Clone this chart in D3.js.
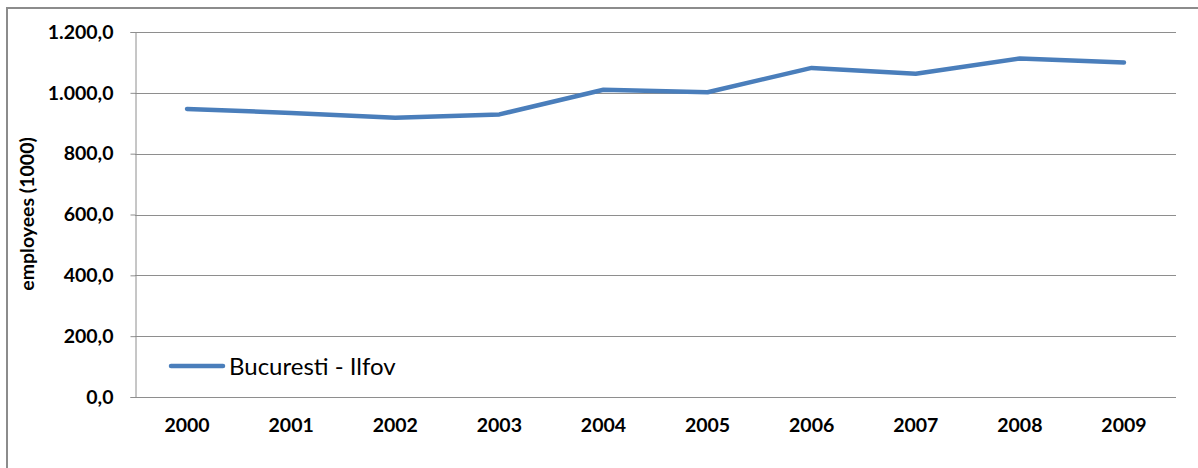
<!DOCTYPE html>
<html>
<head>
<meta charset="utf-8">
<script src="https://cdn.jsdelivr.net/npm/d3@7"></script>
<style>
  html, body { margin: 0; padding: 0; background: #fff; }
  svg { display: block; }
  text { font-family: Lato, "Open Sans", sans-serif; fill: #000; }
</style>
</head>
<body>
<svg id="chart" width="1198" height="468"></svg>
<script>
// Employees in Bucuresti - Ilfov region, thousands
const years = ["2000", "2001", "2002", "2003", "2004", "2005", "2006", "2007", "2008", "2009"];
const employees = [947, 934, 918, 929, 1010, 1002, 1082, 1063, 1113, 1100];
const yTicks = [0, 200, 400, 600, 800, 1000, 1200];
const seriesName = "Bucuresti - Ilfov";
const yTitle = "employees (1000)";

const W = 1198, H = 468;
const margin = { left: 135, right: 22, top: 32, bottom: 71 };
const svg = d3.select("#chart");

// outer chart frame (runs past the right and bottom edges)
svg.append("rect")
  .attr("x", 7).attr("y", 8)
  .attr("width", W + 20).attr("height", H + 20)
  .attr("fill", "#fff").attr("stroke", "#8c8c8c").attr("stroke-width", 2);

const x = d3.scaleBand().domain(years)
  .range([margin.left, W - margin.right]).paddingInner(0).paddingOuter(0);
const y = d3.scaleLinear().domain([0, 1200])
  .range([H - margin.bottom, margin.top]);

const fmt = v => d3.format(",.1f")(v).replace(/,/g, "#").replace(".", ",").replace(/#/g, ".");

// horizontal gridlines
svg.append("g")
  .selectAll("line").data(yTicks.filter(d => d > 0)).join("line")
  .attr("x1", margin.left).attr("x2", W - margin.right)
  .attr("y1", d => Math.round(y(d)) + 0.5).attr("y2", d => Math.round(y(d)) + 0.5)
  .attr("stroke", "#8e8e8e").attr("stroke-width", 1);

// y axis
const yAxis = svg.append("g")
  .attr("transform", `translate(${margin.left + 0.5},0)`)
  .call(d3.axisLeft(y).tickValues(yTicks).tickSize(5).tickPadding(17).tickFormat(fmt));
yAxis.selectAll("path, line").attr("stroke", "#8e8e8e");
yAxis.selectAll("text")
  .attr("font-family", "Lato, sans-serif").attr("font-size", 19.5).attr("font-weight", "bold")
  .attr("fill", "#111");

// x axis
const xAxis = svg.append("g")
  .attr("transform", `translate(0,${Math.round(y(0)) + 0.5})`)
  .call(d3.axisBottom(x).tickSize(0).tickPadding(21));
xAxis.select("path").attr("stroke", "#8e8e8e").attr("d", `M${margin.left},0H${W - margin.right}`);
xAxis.selectAll("text")
  .attr("font-family", "Lato, sans-serif").attr("font-size", 19.5).attr("font-weight", "bold")
  .attr("fill", "#111");

// axis title
svg.append("text")
  .attr("transform", `translate(34,214) rotate(-90)`)
  .attr("text-anchor", "middle")
  .attr("font-size", 19.5).attr("font-weight", "bold")
  .attr("fill", "#111")
  .text(yTitle);

// series line
const line = d3.line()
  .x((d, i) => x(years[i]) + x.bandwidth() / 2)
  .y(d => y(d));
svg.append("path")
  .datum(employees)
  .attr("d", line)
  .attr("fill", "none")
  .attr("stroke", "#4a7ebb")
  .attr("stroke-width", 4.5)
  .attr("stroke-linejoin", "round")
  .attr("stroke-linecap", "round");

// legend
const lg = svg.append("g").attr("transform", "translate(171,366)");
lg.append("line").attr("x1", 0).attr("x2", 52).attr("y1", 0).attr("y2", 0)
  .attr("stroke", "#4a7ebb").attr("stroke-width", 4.5).attr("stroke-linecap", "round");
lg.append("text").attr("x", 58).attr("y", 8.5)
  .attr("font-size", 24)
  .attr("fill", "#111")
  .text(seriesName);
</script>
</body>
</html>
